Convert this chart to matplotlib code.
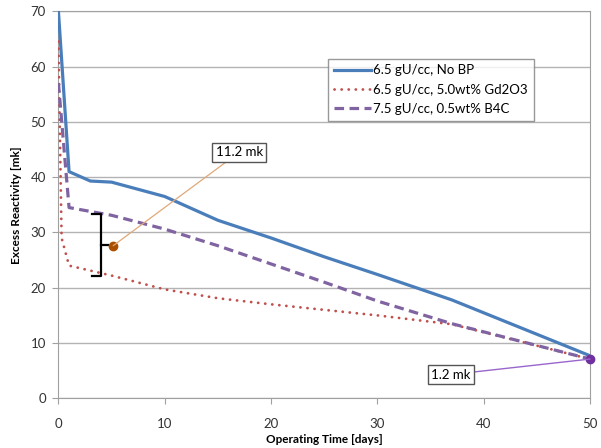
import matplotlib
matplotlib.use("Agg")
import matplotlib.pyplot as plt

# Data
days_blue = [0, 1, 3, 5, 10, 15, 20, 25, 30, 37, 50]
blue = [70, 41.0, 39.3, 39.1, 36.5, 32.2, 29.0, 25.6, 22.4, 17.8, 7.7]

days_red = [0, 0.3, 1, 5, 10, 15, 20, 25, 30, 37, 50]
red = [64.5, 29.0, 24.0, 22.2, 19.7, 18.1, 17.0, 16.0, 15.0, 13.4, 7.1]

days_purple = [0, 1, 5, 10, 15, 20, 25, 30, 37, 50]
purple = [57.0, 34.5, 33.1, 30.6, 27.6, 24.3, 21.0, 17.6, 13.5, 7.1]

labels = ["6.5 gU/cc, No BP", "6.5 gU/cc, 5.0wt% Gd2O3", "7.5 gU/cc, 0.5wt% B4C"]
x_ticks = [0, 10, 20, 30, 40, 50]
y_ticks = [0, 10, 20, 30, 40, 50, 60, 70]

ann1_text = "11.2 mk"
ann1_point = (5.15, 27.6)
ann1_text_pos = (17.0, 44.5)
bracket_x = 4.05
bracket_top = 33.4
bracket_bottom = 22.2

ann2_text = "1.2 mk"
ann2_point = (50, 7.1)
ann2_text_pos = (36.9, 4.3)

plt.rcParams['font.family'] = ['Lato', 'DejaVu Sans']

fig = plt.figure(figsize=(6.01, 4.48), dpi=100)
ax = fig.add_axes([0.0972, 0.1109, 0.8845, 0.8639])

ax.plot(days_blue, blue, color='#4a7ebb', lw=2.3, label=labels[0], solid_joinstyle='round', zorder=3)
ax.plot(days_red, red, color='#c0504d', lw=2.0, ls=(0, (0.05, 2.5)), dash_capstyle='round', label=labels[1], zorder=3)
ax.plot(days_purple, purple, color='#8064a2', lw=2.3, ls=(0, (3.0, 1.7)), label=labels[2], zorder=3)

ax.set_xlim(0, 50)
ax.set_ylim(0, 70)
ax.set_xticks(x_ticks)
ax.set_yticks(y_ticks)
ax.yaxis.grid(True, color='#b3b3b3', lw=1.0)
ax.set_axisbelow(True)
for s in ax.spines.values():
    s.set_color('#a0a0a0')
ax.tick_params(axis='both', direction='out', length=4, color='#a0a0a0', labelsize=9.5, labelcolor='#333333')
ax.tick_params(axis='x', pad=10)
ax.tick_params(axis='y', pad=5)

ax.set_xlabel("Operating Time [days]", fontsize=8.5, fontweight='bold', labelpad=3)
ax.set_ylabel("Excess Reactivity [mk]", fontsize=8.5, fontweight='bold', labelpad=6)

leg = ax.legend(loc='upper left', bbox_to_anchor=(0.507, 0.878), fontsize=9.5, frameon=True,
                fancybox=False, edgecolor='#808080', handlelength=2.8, handletextpad=0.2,
                borderpad=0.45, labelspacing=0.55, borderaxespad=0)
leg.get_frame().set_linewidth(1.0)

# bracket
hook = 0.85
ax.plot([bracket_x - hook, bracket_x, bracket_x, bracket_x - hook],
        [bracket_top, bracket_top, bracket_bottom, bracket_bottom],
        color='black', lw=1.6, zorder=4, solid_joinstyle='round')
ax.plot([bracket_x, bracket_x + 0.6], [(bracket_top + bracket_bottom) / 2] * 2, color='black', lw=1.6, zorder=4)
ax.plot(*ann1_point, 'o', color='#a84f00', ms=6, zorder=5)
ax.annotate(ann1_text, xy=ann1_point, xytext=ann1_text_pos, fontsize=9.5, ha='center', va='center',
            bbox=dict(boxstyle='square,pad=0.25', fc='white', ec='#555555', lw=1.0),
            arrowprops=dict(arrowstyle='-', color='#e0a878', lw=0.9, shrinkA=0, shrinkB=0), zorder=5)

ax.plot(*ann2_point, 'o', color='#7030a0', ms=6, zorder=5, clip_on=False)
ax.annotate(ann2_text, xy=ann2_point, xytext=ann2_text_pos, fontsize=9.5, ha='center', va='center',
            bbox=dict(boxstyle='square,pad=0.25', fc='white', ec='#555555', lw=1.0),
            arrowprops=dict(arrowstyle='-', color='#9966cc', lw=1.0, shrinkA=0, shrinkB=0), zorder=5)

fig.savefig("out.png", dpi=100)
